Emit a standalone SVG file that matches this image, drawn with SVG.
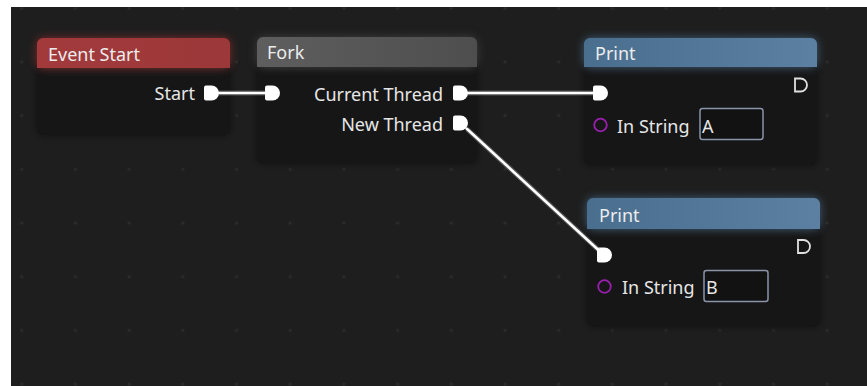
<svg xmlns="http://www.w3.org/2000/svg" width="867" height="386" viewBox="0 0 867 386">
  <defs>
    <style>
      .label { font-family: "Noto Sans", "Open Sans", "DejaVu Sans", sans-serif; font-size: 18px; fill: #e6e6e6; }
      .title { font-family: "Noto Sans", "Open Sans", "DejaVu Sans", sans-serif; font-size: 18px; fill: #ececec; }
      .body { fill: #141414; }
      .port { fill: #ffffff; }
      .outport { fill: none; stroke: #e0e0e0; stroke-width: 1.8; }
      .strpin { fill: none; stroke: #9a1fb0; stroke-width: 1.8; }
      .field { fill: #121212; stroke: #8a94a8; stroke-width: 1.5; }
      .wire-halo { fill: none; stroke: #a0a0a0; stroke-width: 5; stroke-opacity: 0.4; stroke-linecap: butt; }
      .wire { fill: none; stroke: #ffffff; stroke-width: 2.6; stroke-linecap: butt; }
    </style>
    <pattern id="grid" x="21.7" y="8.2" width="53.7" height="53.7" patternUnits="userSpaceOnUse">
      <circle cx="0" cy="0" r="1.6" fill="#2c2c2c"/>
      <circle cx="53.7" cy="0" r="1.6" fill="#2c2c2c"/>
      <circle cx="0" cy="53.7" r="1.6" fill="#2c2c2c"/>
      <circle cx="53.7" cy="53.7" r="1.6" fill="#2c2c2c"/>
    </pattern>
    <filter id="shadow" x="-20%" y="-20%" width="140%" height="140%">
      <feGaussianBlur in="SourceAlpha" stdDeviation="4"/>
      <feComponentTransfer><feFuncA type="linear" slope="0.5"/></feComponentTransfer>
      <feMerge><feMergeNode/><feMergeNode in="SourceGraphic"/></feMerge>
    </filter>
    <filter id="glow" x="-20%" y="-60%" width="140%" height="220%">
      <feGaussianBlur stdDeviation="5"/>
    </filter>
    <linearGradient id="hdrRed" x1="0" x2="1" y1="0" y2="0">
      <stop offset="0" stop-color="#a23a3c"/>
      <stop offset="1" stop-color="#9c3839"/>
    </linearGradient>
    <linearGradient id="hdrGray" x1="0" x2="1" y1="0" y2="0">
      <stop offset="0" stop-color="#5e5e5e"/>
      <stop offset="1" stop-color="#4e4e4e"/>
    </linearGradient>
    <linearGradient id="hdrBlue" x1="0" x2="1" y1="0" y2="0">
      <stop offset="0" stop-color="#4a6e8e"/>
      <stop offset="1" stop-color="#5b80a2"/>
    </linearGradient>
    <!-- exec pin: flat left edge, round right edge, 15x15 centred on y=0 -->
    <path id="pin" d="M2,-7.5 H7.5 A7.5,7.5 0 0 1 7.5,7.5 H2 Q0,7.5 0,5.5 V-5.5 Q0,-7.5 2,-7.5 Z"/>
    <path id="pinOut" d="M1,-6.5 H6.5 A6.5,6.5 0 0 1 6.5,6.5 H1 V-6.5 Z"/>
  </defs>

  <!-- canvas -->
  <rect x="0" y="0" width="867" height="386" fill="#ffffff"/>
  <rect x="11" y="7" width="856" height="379" fill="#1e1e1e"/>
  <rect x="11" y="7" width="856" height="379" fill="url(#grid)"/>

  <!-- Event Start -->
  <g id="node-event-start">
    <rect class="body" x="37" y="38" width="193" height="97" rx="6" filter="url(#shadow)"/>
    <rect x="37" y="38" width="193" height="30" rx="6" fill="#a03a3b" opacity="0.8" filter="url(#glow)"/>
    <path d="M43,38 H224 A6,6 0 0 1 230,44 V68 H37 V44 A6,6 0 0 1 43,38 Z" fill="url(#hdrRed)"/>
    <text class="title" x="48" y="61">Event Start</text>
    <text class="label" x="195" y="100" text-anchor="end">Start</text>
    <use href="#pin" class="port" x="204" y="93"/>
  </g>

  <!-- Fork -->
  <g id="node-fork">
    <rect class="body" x="257" y="37" width="220" height="126" rx="6" filter="url(#shadow)"/>
    <rect x="257" y="37" width="220" height="30" rx="6" fill="#5a5a5a" opacity="0.7" filter="url(#glow)"/>
    <path d="M263,37 H471 A6,6 0 0 1 477,43 V67 H257 V43 A6,6 0 0 1 263,37 Z" fill="url(#hdrGray)"/>
    <text class="title" x="267" y="59">Fork</text>
    <use href="#pin" class="port" x="265" y="93"/>
    <text class="label" x="443" y="101" text-anchor="end">Current Thread</text>
    <use href="#pin" class="port" x="453" y="93"/>
    <text class="label" x="443" y="131" text-anchor="end">New Thread</text>
    <use href="#pin" class="port" x="453" y="123"/>
  </g>

  <!-- Print (A) -->
  <g id="node-print-a">
    <rect class="body" x="584" y="38" width="233" height="127" rx="6" filter="url(#shadow)"/>
    <rect x="584" y="38" width="233" height="29" rx="6" fill="#55799a" opacity="0.8" filter="url(#glow)"/>
    <path d="M590,38 H811 A6,6 0 0 1 817,44 V67 H584 V44 A6,6 0 0 1 590,38 Z" fill="url(#hdrBlue)"/>
    <text class="title" x="595" y="60">Print</text>
    <use href="#pin" class="port" x="593" y="93"/>
    <use href="#pinOut" class="outport" x="794" y="85"/>
    <circle class="strpin" cx="600.5" cy="125" r="6.3"/>
    <text class="label" x="617" y="133">In String</text>
    <rect class="field" x="700" y="108.5" width="63" height="31" rx="2.5"/>
    <text class="label" x="702" y="133">A</text>
  </g>

  <!-- Print (B) -->
  <g id="node-print-b">
    <rect class="body" x="587" y="198" width="233" height="128" rx="6" filter="url(#shadow)"/>
    <rect x="587" y="198" width="233" height="31" rx="6" fill="#55799a" opacity="0.8" filter="url(#glow)"/>
    <path d="M593,198 H814 A6,6 0 0 1 820,204 V229 H587 V204 A6,6 0 0 1 593,198 Z" fill="url(#hdrBlue)"/>
    <text class="title" x="599" y="222">Print</text>
    <use href="#pin" class="port" x="597" y="255"/>
    <use href="#pinOut" class="outport" x="797" y="246.5"/>
    <circle class="strpin" cx="604.5" cy="286.5" r="6.3"/>
    <text class="label" x="622" y="294">In String</text>
    <rect class="field" x="704" y="270.5" width="64" height="31" rx="2.5"/>
    <text class="label" x="706" y="294">B</text>
  </g>

  <!-- connectors: each runs from the edge of one pin to the edge of the next -->
  <g id="connectors">
    <path class="wire-halo" d="M218.5,93 H265.5"/>
    <path class="wire" d="M217,93 H266"/>
    <path class="wire-halo" d="M467.5,93 H593.5"/>
    <path class="wire" d="M466,93 H594"/>
    <path class="wire-halo" d="M467,129 L598.5,250"/>
    <path class="wire" d="M466,128 L599.5,251"/>
  </g>
</svg>
